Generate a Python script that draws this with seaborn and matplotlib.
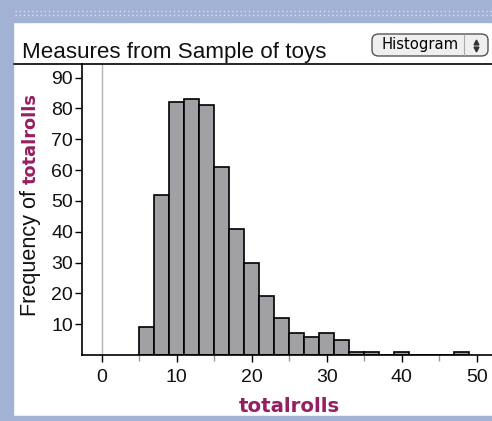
import matplotlib
matplotlib.use("Agg")
import matplotlib.pyplot as plt
import seaborn as sns
import pandas as pd
from matplotlib.patches import Rectangle, FancyBboxPatch
from matplotlib.lines import Line2D

# ---- data ----
bin_centers = [6, 8, 10, 12, 14, 16, 18, 20, 22, 24, 26, 28, 30, 32, 34, 36, 38, 40, 42, 44, 46, 48]
counts = [9, 52, 82, 83, 81, 61, 41, 30, 19, 12, 7, 6, 7, 5, 1, 1, 0, 1, 0, 0, 0, 1]
bin_edges = list(range(5, 50, 2))
x_ticks = [0, 10, 20, 30, 40, 50]
x_minor = [5, 15, 25, 35, 45]
y_ticks = [10, 20, 30, 40, 50, 60, 70, 80, 90]
title_text = "Measures from Sample of toys"
attr_name = "totalrolls"
button_text = "Histogram"

sns.set_theme(style="white")
plt.rcParams['font.family'] = ['Liberation Sans', 'DejaVu Sans']

W, H = 492, 421
fig = plt.figure(figsize=(W / 100, H / 100), dpi=100)
fig.patch.set_facecolor('white')

def fx(px):
    return px / W

def fy(py):
    return 1 - py / H

blue = '#a2b2d5'
maroon = '#951f63'

# frame
fig.add_artist(Rectangle((0, fy(22)), 1, 22 / H, transform=fig.transFigure, color=blue, zorder=0))
fig.add_artist(Rectangle((0, 0), fx(13), 1, transform=fig.transFigure, color=blue, zorder=0))
fig.add_artist(Rectangle((0, 0), 1, 5 / H, transform=fig.transFigure, color=blue, zorder=0))
for yy in (11, 15):
    fig.add_artist(Line2D([fx(15), 1], [fy(yy), fy(yy)], transform=fig.transFigure,
                          color='#d8e0f0', lw=1, linestyle=(0, (1, 2))))

# top rule of the graph
fig.add_artist(Line2D([fx(14), 1], [fy(63.5), fy(63.5)], transform=fig.transFigure, color='black', lw=1.2))

# title
fig.text(fx(21.5), fy(58.3), title_text, fontsize=16.1, color='#111111', va='baseline', ha='left')

# button
btn = FancyBboxPatch((fx(372), fy(56)), fx(488) - fx(372), (56 - 34) / H,
                     boxstyle="round,pad=0,rounding_size=0.014", transform=fig.transFigure,
                     facecolor='#efefef', edgecolor='#555555', lw=1)
fig.add_artist(btn)
fig.add_artist(Line2D([fx(464), fx(464)], [fy(35), fy(55)], transform=fig.transFigure, color='#aaaaaa', lw=0.8))
fig.text(fx(420.5), fy(45), button_text, fontsize=10.6, ha='center', va='center', color='black',
         family='DejaVu Sans')
fig.add_artist(Line2D([fx(475.5)], [fy(41.5)], transform=fig.transFigure, marker='^', markersize=3.5,
                      color='#333333', linestyle='none'))
fig.add_artist(Line2D([fx(475.5)], [fy(49)], transform=fig.transFigure, marker='v', markersize=3.5,
                      color='#333333', linestyle='none'))

# axes
ax = fig.add_axes([fx(82), fy(355), fx(492) - fx(82), (355 - 63.5) / H])
ax.set_facecolor('white')
df = pd.DataFrame({attr_name: bin_centers, 'count': counts})
sns.histplot(data=df, x=attr_name, weights='count', bins=bin_edges, ax=ax,
             color='#a0a0a5', alpha=1, edgecolor='black', linewidth=1.2, zorder=2)
ax.axvline(0, color='#b5b5b5', lw=1, zorder=1)

ax.set_xlim(-2.63, 52.05)
ax.set_ylim(0, 94.6)
ax.set_xticks(x_ticks)
ax.set_xticks(x_minor, minor=True)
ax.set_yticks(y_ticks)
ax.tick_params(axis='y', direction='out', length=5, width=1, color='black', labelsize=14,
               pad=1.5, left=True, labelcolor='#111111')
ax.tick_params(axis='x', which='major', direction='out', length=5, width=1, color='black',
               labelsize=14, pad=5, bottom=True, labelcolor='#111111')
ax.tick_params(axis='x', which='minor', direction='out', length=4, width=1, color='#999999', bottom=True)
for s in ('top', 'right'):
    ax.spines[s].set_visible(False)
for s in ('left', 'bottom'):
    ax.spines[s].set_color('black')
    ax.spines[s].set_linewidth(1.2)
ax.set_xlabel('')
ax.set_ylabel('')

# x label
fig.text(fx(289), fy(411.5), attr_name, fontsize=14.2, fontweight='bold', color=maroon,
         ha='center', va='baseline', family='DejaVu Sans')

# y label in two colours
t1 = fig.text(fx(31), fy(316), "Frequency of ", fontsize=15.6, rotation=90, ha='center',
              va='bottom', color='#111111')
fig.canvas.draw()
bb = t1.get_window_extent(renderer=fig.canvas.get_renderer())
top_px = bb.y1 / fig.dpi / fig.get_figheight()
fig.text(fx(31), top_px, attr_name, fontsize=12.8, rotation=90, ha='center', va='bottom',
         color=maroon, fontweight='bold', family='DejaVu Sans')

fig.savefig('out.png', dpi=100)
